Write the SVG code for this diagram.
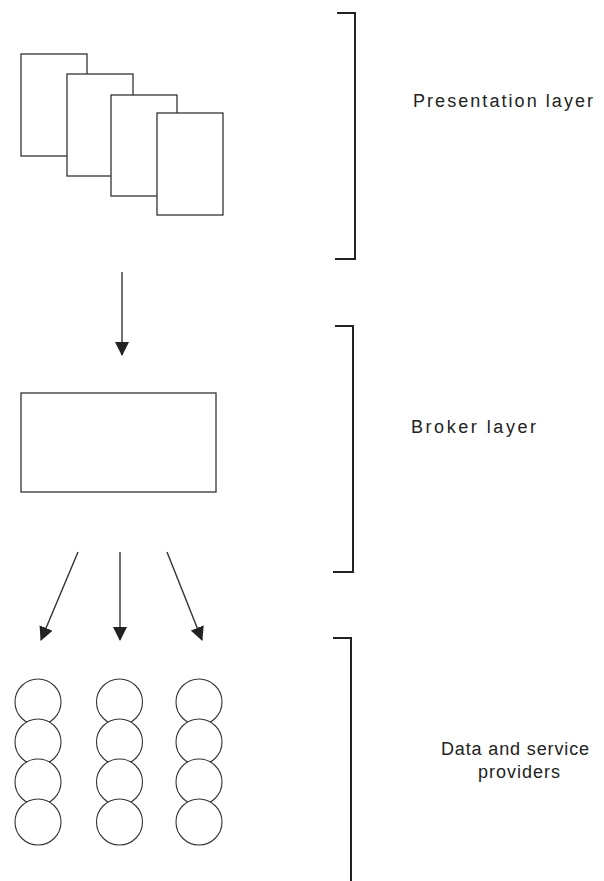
<svg xmlns="http://www.w3.org/2000/svg" width="604" height="881" viewBox="0 0 604 881">
<style>
.pg{fill:#fff;stroke:#333;stroke-width:1.3}
.cir{fill:#fff;stroke:#333;stroke-width:1.1}
.br{fill:none;stroke:#222;stroke-width:2}
.con{stroke:#333;stroke-width:1.4;fill:none}
.lbl{font-family:"Liberation Sans","DejaVu Sans",sans-serif;font-size:18px;fill:#222}
</style>
<defs>
<marker id="ah" markerUnits="userSpaceOnUse" markerWidth="14" markerHeight="14" viewBox="0 0 14 14" refX="13" refY="7" orient="auto">
<path d="M0,0 L14,7 L0,14 Z" fill="#222"/>
</marker>
</defs>
<rect width="604" height="881" fill="#fff"/>
<g id="presentation">
<rect class="pg" x="21" y="54" width="66" height="102"/>
<rect class="pg" x="67" y="74" width="66" height="102"/>
<rect class="pg" x="111" y="95" width="66" height="101"/>
<rect class="pg" x="157" y="113" width="66" height="102"/>
</g>
<g id="broker">
<rect class="pg" x="21" y="393" width="195" height="99"/>
</g>
<g id="providers">
<circle class="cir" cx="38" cy="702" r="23"/>
<circle class="cir" cx="38" cy="742" r="23"/>
<circle class="cir" cx="38" cy="782" r="23"/>
<circle class="cir" cx="38" cy="822" r="23"/>
<circle class="cir" cx="119.5" cy="702" r="23"/>
<circle class="cir" cx="119.5" cy="742" r="23"/>
<circle class="cir" cx="119.5" cy="782" r="23"/>
<circle class="cir" cx="119.5" cy="822" r="23"/>
<circle class="cir" cx="199" cy="702" r="23"/>
<circle class="cir" cx="199" cy="742" r="23"/>
<circle class="cir" cx="199" cy="782" r="23"/>
<circle class="cir" cx="199" cy="822" r="23"/>
</g>
<g id="connectors">
<line class="con" x1="122" y1="272" x2="122" y2="355" marker-end="url(#ah)"/>
<line class="con" x1="78" y1="552" x2="41" y2="640" marker-end="url(#ah)"/>
<line class="con" x1="120" y1="552" x2="120" y2="640" marker-end="url(#ah)"/>
<line class="con" x1="167" y1="552" x2="202" y2="640" marker-end="url(#ah)"/>
</g>
<g id="brackets">
<path class="br" d="M337,13 H355 V259 H335"/>
<path class="br" d="M335,326 H353 V572 H333"/>
<path class="br" d="M333,638 H351 V881"/>
</g>
<g id="labels">
<text class="lbl" x="413" y="107" textLength="180" lengthAdjust="spacing">Presentation layer</text>
<text class="lbl" x="411" y="433" textLength="125" lengthAdjust="spacing">Broker layer</text>
<text class="lbl" x="441" y="755" textLength="148" lengthAdjust="spacing">Data and service</text>
<text class="lbl" x="478" y="778" textLength="82" lengthAdjust="spacing">providers</text>
</g>
</svg>
